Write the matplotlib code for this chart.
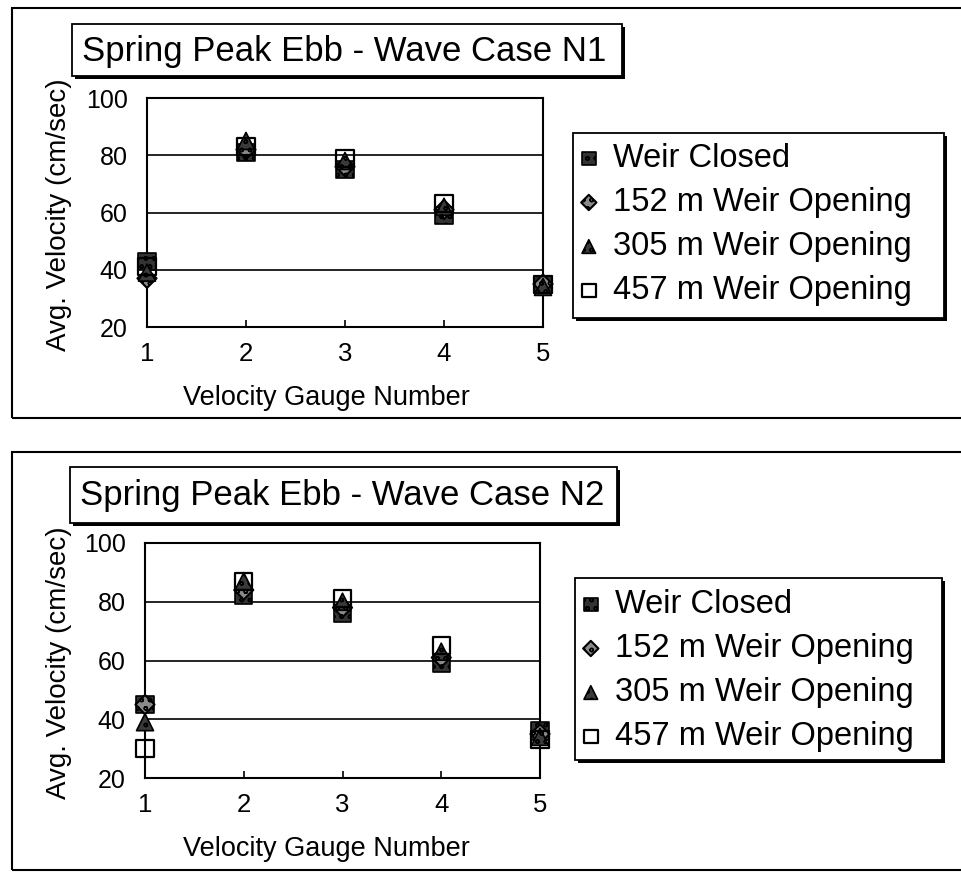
"""Spring Peak Ebb - average velocity per gauge, wave cases N1 and N2.
"""

import numpy as np
import matplotlib
matplotlib.use('Agg')
import matplotlib.pyplot as plt
from matplotlib.patches import Rectangle

plt.rcParams['font.family'] = ['Liberation Sans', 'DejaVu Sans']
plt.rcParams['hatch.color'] = 'white'
plt.rcParams['hatch.linewidth'] = 1.0

# data
gauges = [1, 2, 3, 4, 5]
series_labels = ['Weir Closed', '152 m Weir Opening',
                 '305 m Weir Opening', '457 m Weir Opening']

n1_closed = [43, 81, 75, 59, 35]
n1_152 = [37, 82, 76, 61, 35]
n1_305 = [39, 85, 78, 62, 34]
n1_457 = [41, 83, 79, 63, 35]

n2_closed = [45, 82, 76, 59, 36]
n2_152 = [45, 84, 78, 61, 35]
n2_305 = [39, 87, 80, 63, 34]
n2_457 = [30, 87, 81, 65, 33]

W, H = 961, 882


def fx(px):
    return px / W


def fy(py):
    return 1 - py / H


def box(fig, x0, y0, x1, y1, lw=1.3, shadow=3):
    # black offset rectangle behind a white one -> scanned "drop shadow"
    if shadow:
        fig.add_artist(Rectangle((fx(x0 + shadow), fy(y1 + shadow)),
                                 fx(x1 - x0), (y1 - y0) / H,
                                 transform=fig.transFigure, facecolor='k',
                                 edgecolor='k', lw=0, zorder=0))
    fig.add_artist(Rectangle((fx(x0), fy(y1)), fx(x1 - x0), (y1 - y0) / H,
                             transform=fig.transFigure, facecolor='white',
                             edgecolor='k', lw=lw, zorder=1))


def panel(fig, frame, ax_px, title_px, leg_px, leg_top, title, values):
    # outer frame of the panel
    fig.add_artist(Rectangle((fx(frame[0]), fy(frame[3])),
                             fx(frame[2] - frame[0]), (frame[3] - frame[1]) / H,
                             transform=fig.transFigure, facecolor='none',
                             edgecolor='k', lw=1.5, zorder=0))

    # title box
    box(fig, *title_px)
    fig.text(fx(title_px[0] + 10), fy((title_px[1] + title_px[3]) / 2 + 1), title,
             fontsize=25, va='center', ha='left', zorder=3)

    l, t, r, b = ax_px
    ax = fig.add_axes([fx(l), fy(b), fx(r - l), (b - t) / H])

    closed, o152, o305, o457 = values
    ax.scatter(gauges, closed, marker='s', s=150, facecolor='#333333',
               edgecolor='k', linewidth=1.2, hatch='oo', zorder=3,
               clip_on=False, label=series_labels[0])
    ax.scatter(gauges, o152, marker='D', s=95, facecolor='#8a8a8a',
               edgecolor='k', linewidth=1.5, hatch='oo', zorder=4,
               clip_on=False, label=series_labels[1])
    ax.scatter(gauges, o305, marker='^', s=150, facecolor='#3a3a3a',
               edgecolor='k', linewidth=1.2, hatch='oo', zorder=5,
               clip_on=False, label=series_labels[2])
    ax.scatter(gauges, o457, marker='s', s=150, facecolor='none',
               edgecolor='k', linewidth=1.6, zorder=6,
               clip_on=False, label=series_labels[3])

    ax.set_xlim(1, 5)
    ax.set_ylim(20, 100)
    ax.set_xticks(gauges)
    ax.set_yticks([20, 40, 60, 80, 100])
    ax.yaxis.grid(True, color='k', lw=1.2)
    ax.set_axisbelow(True)
    for s in ax.spines.values():
        s.set_linewidth(1.5)
    ax.tick_params(axis='x', direction='in', length=5, width=1.2,
                   labelsize=18.5, pad=11)
    ax.tick_params(axis='y', length=0, labelsize=18, pad=14)

    ax.set_ylabel('Avg. Velocity (cm/sec)', fontsize=20)
    ax.yaxis.set_label_coords((72 - l) / (r - l), 0.49)
    ax.set_xlabel('Velocity Gauge Number', fontsize=19.5)
    ax.xaxis.set_label_coords((326 - l) / (r - l), -58 / (b - t))

    # legend box
    box(fig, *leg_px)
    handles, labels = ax.get_legend_handles_labels()
    leg = fig.legend(handles, labels, loc='upper left',
                     bbox_to_anchor=(fx(leg_px[0] + 6), fy(leg_top)),
                     frameon=False, fontsize=23.5, labelspacing=0.4,
                     handletextpad=0.45, handlelength=0.6, borderaxespad=0,
                     borderpad=0, markerscale=0.8)
    leg.set_zorder(5)
    return ax


fig = plt.figure(figsize=(W / 100, H / 100), dpi=100)

panel(fig, (12, 8, 985, 418), (147, 98, 543, 327), (72, 24, 622, 76),
      (573, 133, 944, 318), 143, 'Spring Peak Ebb - Wave Case N1',
      (n1_closed, n1_152, n1_305, n1_457))

panel(fig, (12, 452, 985, 870), (145, 543, 540, 778), (70, 467, 617, 523),
      (575, 578, 942, 760), 589, 'Spring Peak Ebb - Wave Case N2',
      (n2_closed, n2_152, n2_305, n2_457))

fig.savefig('out.png', dpi=100)
